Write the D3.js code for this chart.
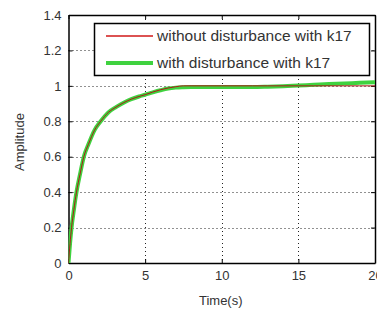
<!DOCTYPE html>
<html>
<head>
<meta charset="utf-8">
<script src="https://cdn.jsdelivr.net/npm/d3@7"></script>
<style>
  body { margin: 0; background: #fff; }
  svg { display: block; font-family: Arial, "Liberation Sans", sans-serif; }
</style>
</head>
<body>
<svg id="chart" width="377" height="314"></svg>
<script>
// step response values
var time = [0, 0.1, 0.2, 0.35, 0.52, 0.75, 1.0, 1.3, 1.7, 2.1, 2.6, 3.1, 3.6, 4.1, 4.6, 5.0, 5.5, 6.0, 6.5, 7.0, 7.5, 8, 10, 12, 13, 14, 15, 16, 17, 18, 19, 20];
var noDisturbance = [0, 0.11, 0.2, 0.3, 0.4, 0.5, 0.6, 0.67, 0.75, 0.8, 0.85, 0.88, 0.905, 0.925, 0.94, 0.95, 0.965, 0.978, 0.988, 0.995, 1.0, 1.0, 1.0, 1.0, 1.0, 1.0, 1.0, 1.0, 1.0, 1.0, 1.0, 1.0];
var withDisturbance = [0, 0.11, 0.2, 0.3, 0.4, 0.5, 0.6, 0.67, 0.75, 0.8, 0.85, 0.88, 0.905, 0.925, 0.94, 0.95, 0.963, 0.975, 0.985, 0.99, 0.992, 0.993, 0.993, 0.993, 0.995, 0.998, 1.002, 1.006, 1.01, 1.013, 1.017, 1.02];
var xTicks = [0, 5, 10, 15, 20];
var yTicks = [0, 0.2, 0.4, 0.6, 0.8, 1, 1.2, 1.4];
var legendLabels = ['without disturbance with k17', 'with disturbance with k17'];

const plotLeft = 68.5, plotRight = 375, plotTop = 15, plotBottom = 263;

const svg = d3.select('#chart');

const x = d3.scaleLinear().domain([0, 20]).range([plotLeft, plotRight]);
const y = d3.scaleLinear().domain([0, 1.4]).range([plotBottom, plotTop]);

svg.append('defs').append('clipPath').attr('id', 'plotclip')
    .append('rect')
    .attr('x', plotLeft).attr('y', plotTop)
    .attr('width', plotRight - plotLeft).attr('height', plotBottom - plotTop);

// dotted grid
const grid = svg.append('g').attr('stroke', '#222').attr('stroke-width', 1)
    .attr('stroke-dasharray', '1,3');
grid.selectAll('.gx').data(xTicks.slice(1, -1)).enter().append('line')
    .attr('x1', (d) => Math.round(x(d)) + 0.5).attr('x2', (d) => Math.round(x(d)) + 0.5)
    .attr('y1', plotTop).attr('y2', plotBottom);
grid.selectAll('.gy').data(yTicks.slice(1, -1)).enter().append('line')
    .attr('x1', plotLeft).attr('x2', plotRight)
    .attr('y1', (d) => Math.round(y(d)) + 0.5).attr('y2', (d) => Math.round(y(d)) + 0.5);

// axes with inward ticks on all four sides
const fmt = (d) => String(d);
svg.append('g').attr('transform', 'translate(0,' + plotBottom + ')')
    .call(d3.axisBottom(x).tickValues(xTicks).tickSizeInner(-4).tickSizeOuter(0).tickPadding(8).tickFormat(fmt));
svg.append('g').attr('transform', 'translate(0,' + plotTop + ')')
    .call(d3.axisTop(x).tickValues(xTicks).tickSizeInner(-4).tickSizeOuter(0).tickFormat(''));
svg.append('g').attr('transform', 'translate(' + plotLeft + ',0)')
    .call(d3.axisLeft(y).tickValues(yTicks).tickSizeInner(-4).tickSizeOuter(0).tickPadding(7).tickFormat(fmt));
svg.append('g').attr('transform', 'translate(' + plotRight + ',0)')
    .call(d3.axisRight(y).tickValues(yTicks).tickSizeInner(-4).tickSizeOuter(0).tickFormat(''));

svg.selectAll('.tick text').attr('font-size', 13).attr('fill', '#333')
    .attr('font-family', 'Arial, "Liberation Sans", sans-serif');
svg.selectAll('.domain').attr('stroke', '#000').attr('stroke-width', 1.5);
svg.selectAll('.tick line').attr('stroke', '#000');

// curves
const line = d3.line().x((d) => x(d[0])).y((d) => y(d[1])).curve(d3.curveMonotoneX);
const plot = svg.append('g').attr('clip-path', 'url(#plotclip)');
plot.append('path').datum(d3.zip(time, withDisturbance))
    .attr('d', line).attr('fill', 'none').attr('stroke', '#3fd23f').attr('stroke-width', 4);
plot.append('path').datum(d3.zip(time, noDisturbance))
    .attr('d', line).attr('fill', 'none').attr('stroke', '#b01818').attr('stroke-width', 1);

// axis labels
svg.append('text').attr('x', (plotLeft + plotRight) / 2 - 1).attr('y', 305)
    .attr('text-anchor', 'middle').attr('font-size', 13).attr('fill', '#333').text('Time(s)');
svg.append('text').attr('transform', 'translate(24,142) rotate(-90)')
    .attr('text-anchor', 'middle').attr('font-size', 13).attr('fill', '#333').text('Amplitude');

// legend
const legend = svg.append('g');
legend.append('rect').attr('x', 94.5).attr('y', 23.5).attr('width', 275).attr('height', 52)
    .attr('fill', '#fff').attr('stroke', '#000').attr('stroke-width', 1.5);
const legendColors = ['#d01818', '#3fd23f'];
const legendWidths = [1.5, 4];
const legendY = d3.scalePoint().domain(legendLabels).range([36, 63]);
legend.selectAll('.ll').data(legendLabels).enter().append('line')
    .attr('x1', 106).attr('x2', 153)
    .attr('y1', (d) => legendY(d)).attr('y2', (d) => legendY(d))
    .attr('stroke', (d, i) => legendColors[i]).attr('stroke-width', (d, i) => legendWidths[i]);
legend.selectAll('.lt').data(legendLabels).enter().append('text')
    .attr('x', 157).attr('y', (d) => legendY(d) + 5)
    .attr('font-size', 15.5).attr('fill', '#333').text((d) => d);
</script>
</body>
</html>
